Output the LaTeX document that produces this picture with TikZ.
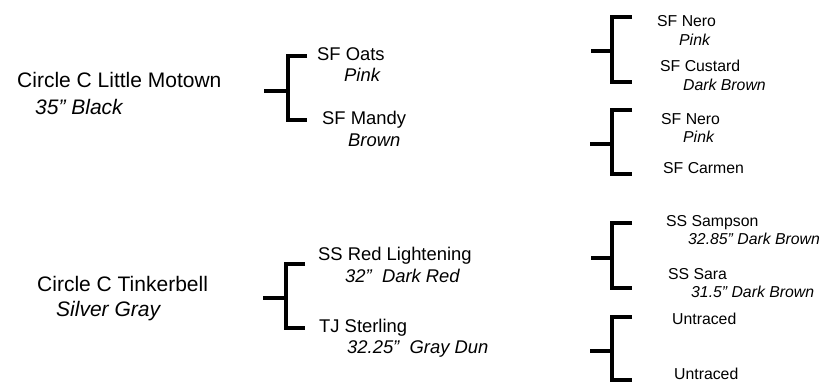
\documentclass[tikz,border=0pt]{standalone}
\usepackage{fontspec}
\setmainfont{Liberation Sans}
\usepackage{xcolor}
\usepackage{tikz}
\usetikzlibrary{calc}
\tikzset{
  sire/.style={anchor=base west, inner sep=0pt, font=\fontsize{21}{24}\selectfont},
  sirenote/.style={anchor=base west, inner sep=0pt, font=\fontsize{21}{24}\selectfont\itshape},
  parent/.style={anchor=base west, inner sep=0pt, font=\fontsize{18.4}{22}\selectfont},
  parentnote/.style={anchor=base west, inner sep=0pt, font=\fontsize{18.4}{22}\selectfont\itshape},
  grand/.style={anchor=base west, inner sep=0pt, font=\fontsize{15.8}{19}\selectfont},
  grandnote/.style={anchor=base west, inner sep=0pt, font=\fontsize{15.8}{19}\selectfont\itshape},
  bracket/.style={line width=3.8pt, draw=black, line join=miter}
}
\begin{document}
\begin{tikzpicture}[x=1pt, y=-1pt]
\useasboundingbox (0,0) rectangle (823,382);
% horses
\node[sire] (motown) at (17,88) {Circle C Little Motown};
\node[sirenote] (motownc) at (35,115) {35” Black};
\node[sire] (tinker) at (37,292) {Circle C Tinkerbell};
\node[sirenote] (tinkerc) at (56,317) {Silver Gray};
\node[parent] (oats) at (317,61) {SF Oats};
\node[parentnote] (oatsc) at (344,82) {Pink};
\node[parent] (mandy) at (322,125) {SF Mandy};
\node[parentnote] (mandyc) at (348,147) {Brown};
\node[parent] (redl) at (318,261) {SS Red Lightening};
\node[parentnote] (redlc) at (345,283) {32”~~Dark Red};
\node[parent] (sterling) at (319,333) {TJ Sterling};
\node[parentnote] (sterlingc) at (347,354) {32.25”~~Gray Dun};
\node[grand] (neroa) at (657,27) {SF Nero};
\node[grandnote] (neroac) at (679,46) {Pink};
\node[grand] (custard) at (660,72) {SF Custard};
\node[grandnote] (custardc) at (683,91) {Dark Brown};
\node[grand] (nerob) at (661,125) {SF Nero};
\node[grandnote] (nerobc) at (683,143) {Pink};
\node[grand] (carmen) at (663,174) {SF Carmen};
\node[grand] (sampson) at (666,227) {SS Sampson};
\node[grandnote] (sampsonc) at (688,245) {32.85” Dark Brown};
\node[grand] (sara) at (668,280) {SS Sara};
\node[grandnote] (sarac) at (691,298) {31.5” Dark Brown};
\node[grand] (untra) at (672,325) {Untraced};
\node[grand] (untrb) at (674,380) {Untraced};
% bracket ends
\coordinate (ma) at (264,91);  \coordinate (mt) at (307,56);  \coordinate (mv) at (288,120); \coordinate (mb) at (307,120);
\coordinate (ta) at (263,298); \coordinate (tt) at (305,264); \coordinate (tv) at (286,328); \coordinate (tb) at (305,328);
\coordinate (oa) at (591,51);  \coordinate (ot) at (632,17);  \coordinate (ov) at (612,82);  \coordinate (ob) at (632,82);
\coordinate (da) at (590,144); \coordinate (dt) at (632,110); \coordinate (dv) at (612,174); \coordinate (db) at (632,174);
\coordinate (ra) at (591,258); \coordinate (rt) at (632,223); \coordinate (rv) at (612,288); \coordinate (rb) at (632,288);
\coordinate (sa) at (590,351); \coordinate (st) at (632,317); \coordinate (sv) at (612,380); \coordinate (sb) at (632,380);
% brackets
\draw[bracket] (mt) -| (mv) -- (mb); \draw[bracket] (ma) -- (ma -| mv);
\draw[bracket] (tt) -| (tv) -- (tb); \draw[bracket] (ta) -- (ta -| tv);
\draw[bracket] (ot) -| (ov) -- (ob); \draw[bracket] (oa) -- (oa -| ov);
\draw[bracket] (dt) -| (dv) -- (db); \draw[bracket] (da) -- (da -| dv);
\draw[bracket] (rt) -| (rv) -- (rb); \draw[bracket] (ra) -- (ra -| rv);
\draw[bracket] (st) -| (sv) -- (sb); \draw[bracket] (sa) -- (sa -| sv);
\end{tikzpicture}
\end{document}
